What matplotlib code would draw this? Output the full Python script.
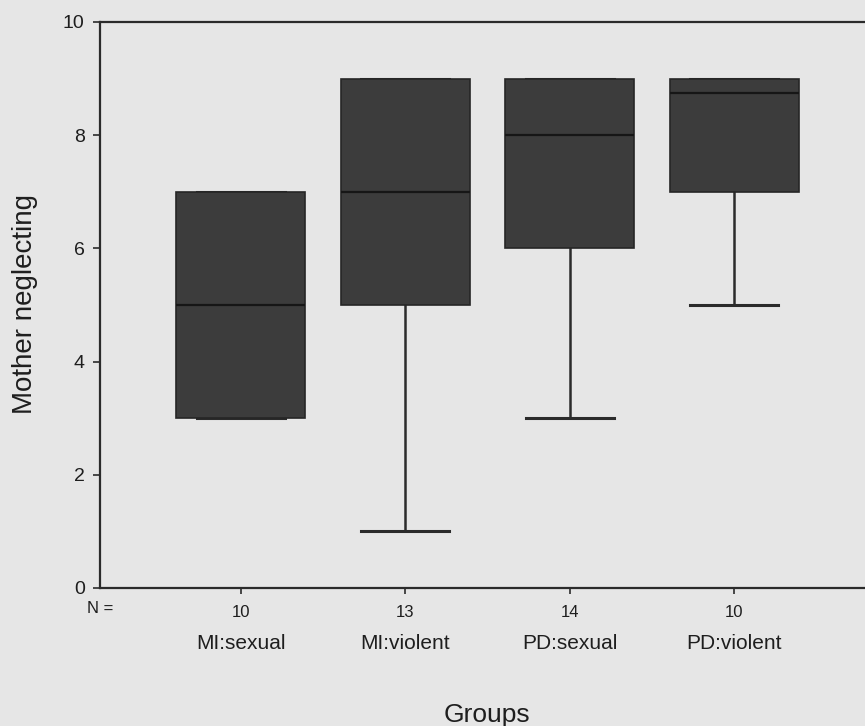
import matplotlib
matplotlib.use("Agg")
import matplotlib.pyplot as plt

groups = ["MI:sexual", "MI:violent", "PD:sexual", "PD:violent"]
n_counts = [10, 13, 14, 10]
whislo = [3, 1, 3, 5]
q1 = [3, 5, 6, 7]
med = [5, 7, 8, 8.75]
q3 = [7, 9, 9, 9]
whishi = [7, 9, 9, 9]

plt.rcParams["font.family"] = ["Liberation Sans", "DejaVu Sans"]
bg = "#e6e6e6"
ink = "#2b2b2b"

fig = plt.figure(figsize=(8.65, 7.26), dpi=100, facecolor=bg)
# axes runs off the right edge, like the scanned SPSS chart
ax = fig.add_axes([100 / 865, 1 - 588 / 726, 775 / 865, 566 / 726], facecolor=bg)

stats = [
    dict(label=g, whislo=lo, q1=a, med=m, q3=b, whishi=hi)
    for g, lo, a, m, b, hi in zip(groups, whislo, q1, med, q3, whishi)
]
pos = list(range(1, len(groups) + 1))
ax.bxp(
    stats, positions=pos, widths=0.785, capwidths=[0.535] * len(groups),
    showfliers=False, patch_artist=True,
    boxprops=dict(facecolor="#3c3c3c", edgecolor="#262626", linewidth=1.2,
                  zorder=3),
    medianprops=dict(color="#161616", linewidth=1.6, zorder=4),
    whiskerprops=dict(color=ink, linewidth=1.8, zorder=2),
    capprops=dict(color=ink, linewidth=2.2, zorder=2),
)

ax.set_xlim(0.142, 4.858)
ax.set_ylim(0, 10)
ax.set_yticks([0, 2, 4, 6, 8, 10])
ax.tick_params(axis="y", direction="out", length=5, width=1.2, colors=ink,
               labelsize=14, pad=6)
ax.set_xticks(pos, labels=[str(n) for n in n_counts])
ax.tick_params(axis="x", direction="out", length=4, width=1.2, colors=ink,
               labelsize=12, pad=8)
for lab in ax.get_xticklabels() + ax.get_yticklabels():
    lab.set_color("#1e1e1e")

for s in ["top", "left", "bottom", "right"]:
    ax.spines[s].set_linewidth(1.6)
    ax.spines[s].set_color(ink)

trans = ax.get_xaxis_transform()
ax.text(0.0, -0.0442, "N =", transform=ax.transAxes, ha="center",
        va="baseline", fontsize=12, color="#1e1e1e")
for p, g in zip(pos, groups):
    ax.text(p, -0.1078, g, transform=trans, ha="center", va="baseline",
            fontsize=15, color="#1e1e1e")

fig.text(487 / 865, 4 / 726, "Groups", ha="center", va="baseline",
         fontsize=19, color="#1e1e1e")
fig.text(25 / 865, 1 - 304 / 726, "Mother neglecting", rotation=90,
         ha="center", va="center", fontsize=20, color="#1e1e1e")

fig.savefig("out.png", dpi=100, facecolor=bg)
